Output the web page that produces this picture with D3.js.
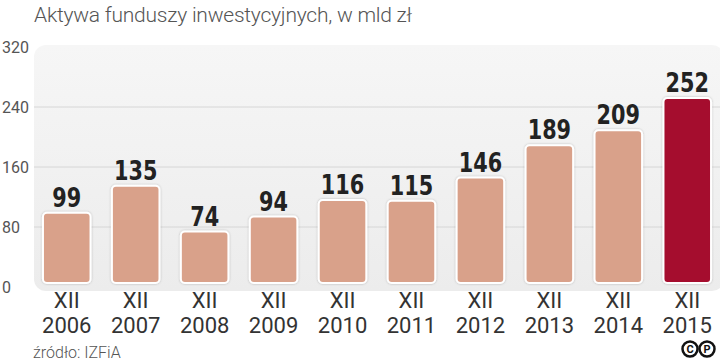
<!DOCTYPE html>
<html>
<head>
<meta charset="utf-8">
<script src="https://cdn.jsdelivr.net/npm/d3@7"></script>
<style>
  body { margin: 0; background: #fff; }
  svg { display: block; }
</style>
</head>
<body>
<div id="chart"></div>
<script>
var width = 720
var height = 364

// Data
var years = ["2006", "2007", "2008", "2009", "2010", "2011", "2012", "2013", "2014", "2015"];
var values = [99, 135, 74, 94, 116, 115, 146, 189, 209, 252];
var yTicks = [0, 80, 160, 240, 320];
var monthLabel = "XII";

var x_scale = d3.scaleBand()
    .domain(years)
    .range([34, 720])
    .paddingInner(0.31)
    .paddingOuter(0.13);

var y_scale = d3.scaleLinear()
    .domain([0, 320])
    .range([287, 47]);

var svg = d3.select("#chart")
    .append("svg")
    .attr("width", width)
    .attr("height", height)
    .style("font-family", "Roboto, 'Liberation Sans', sans-serif");

var defs = svg.append("defs");
var grad = defs.append("linearGradient")
    .attr("id", "bg")
    .attr("x1", 0).attr("y1", 0).attr("x2", 0).attr("y2", 1);
grad.append("stop").attr("offset", "0%").attr("stop-color", "#f6f6f6");
grad.append("stop").attr("offset", "100%").attr("stop-color", "#ececec");

var shadow = defs.append("filter").attr("id", "sh")
    .attr("x", "-20%").attr("y", "-20%").attr("width", "140%").attr("height", "140%");
shadow.append("feDropShadow")
    .attr("dx", 0).attr("dy", 0).attr("stdDeviation", 1)
    .attr("flood-color", "#000").attr("flood-opacity", 0.25);

// Title
svg.append("text")
    .attr("x", 34)
    .attr("y", 22)
    .attr("textLength", 378)
    .attr("lengthAdjust", "spacing")
    .style("font-size", "21px")
    .style("font-weight", 300)
    .style("fill", "#555")
    .text("Aktywa funduszy inwestycyjnych, w mld zł");

// Plot background
svg.append("rect")
    .attr("x", 34)
    .attr("y", 45)
    .attr("width", 690)
    .attr("height", 246)
    .attr("rx", 12)
    .style("fill", "url(#bg)");

// Grid lines
svg.append("g")
    .selectAll("line")
    .data(yTicks.filter(function(d) { return d > 0 && d < 320; }))
    .enter()
    .append("line")
    .attr("x1", 34)
    .attr("x2", 720)
    .attr("y1", function(d) { return y_scale(d); })
    .attr("y2", function(d) { return y_scale(d); })
    .style("stroke", "#d6d6d6")
    .style("stroke-width", 1);

// Y tick labels
svg.append("g")
    .selectAll("text")
    .data(yTicks)
    .enter()
    .append("text")
    .attr("x", 2)
    .attr("y", function(d) { return y_scale(d); })
    .attr("dy", "0.35em")
    .style("font-size", "16px")
    .style("fill", "#555")
    .text(function(d) { return d; });

// Bars
svg.append("g")
    .selectAll("rect")
    .data(values)
    .enter()
    .append("rect")
    .attr("x", function(d, i) { return x_scale(years[i]); })
    .attr("y", function(d) { return y_scale(d); })
    .attr("width", x_scale.bandwidth())
    .attr("height", function(d) { return y_scale(0) - y_scale(d) - 4; })
    .attr("rx", 4)
    .style("fill", function(d, i) { return i === years.length - 1 ? "#a50e2d" : "#d9a18a"; })
    .style("stroke", "#fff")
    .style("stroke-width", 2)
    .attr("filter", "url(#sh)");

// Value labels (condensed bold look via horizontal scale)
svg.append("g")
    .selectAll("text")
    .data(values)
    .enter()
    .append("text")
    .attr("transform", function(d, i) {
        return "translate(" + (x_scale(years[i]) + x_scale.bandwidth() / 2) + "," + (y_scale(d) - 6) + ") scale(0.8,1)";
    })
    .attr("text-anchor", "middle")
    .style("font-family", "'DejaVu Sans', sans-serif")
    .style("font-weight", "bold")
    .style("font-size", "26px")
    .style("fill", "#222")
    .text(function(d) { return d; });

// X labels
var xl = svg.append("g")
    .selectAll("g")
    .data(years)
    .enter()
    .append("g")
    .attr("transform", function(d) { return "translate(" + (x_scale(d) + x_scale.bandwidth() / 2) + ",0)"; });

xl.append("text")
    .attr("y", 308)
    .attr("text-anchor", "middle")
    .style("font-size", "22px")
    .style("fill", "#333")
    .text(monthLabel);

xl.append("text")
    .attr("y", 333)
    .attr("text-anchor", "middle")
    .style("font-size", "22px")
    .style("fill", "#333")
    .text(function(d) { return d; });

// Source
svg.append("text")
    .attr("x", 33)
    .attr("y", 358)
    .style("font-size", "16px")
    .style("font-weight", 300)
    .style("fill", "#555")
    .text("źródło: IZFiA");

// Logo
var logo = svg.append("g").attr("transform", "translate(690,349)");
["C", "P"].forEach(function(l, i) {
    logo.append("circle")
        .attr("cx", i * 17)
        .attr("cy", 0)
        .attr("r", 7.5)
        .style("fill", "#fff")
        .style("stroke", "#111")
        .style("stroke-width", 2.5);
    logo.append("text")
        .attr("x", i * 17)
        .attr("y", 0)
        .attr("dy", "0.36em")
        .attr("text-anchor", "middle")
        .style("font-size", "11px")
        .style("font-weight", "bold")
        .style("fill", "#111")
        .text(l);
});
</script>
</body>
</html>
